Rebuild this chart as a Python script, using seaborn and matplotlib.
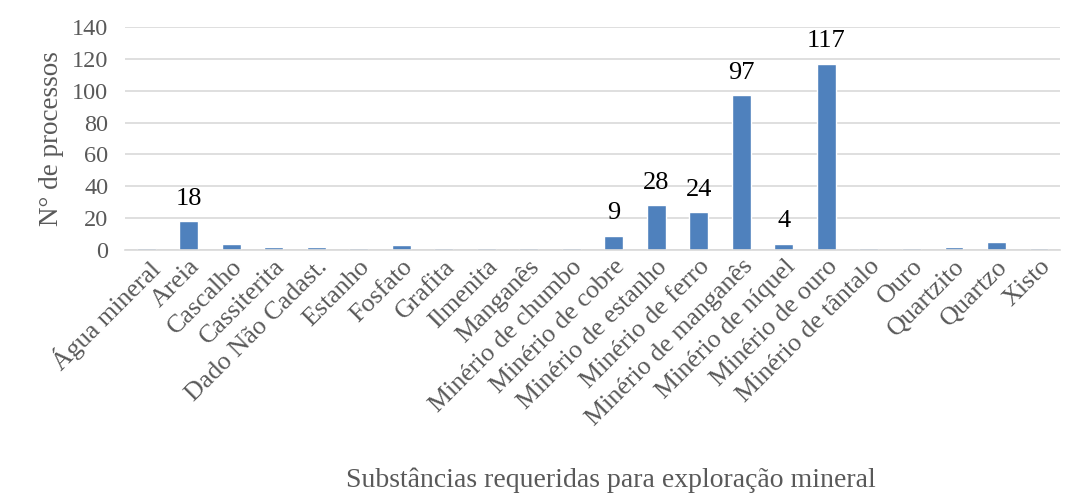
import matplotlib
matplotlib.use("Agg")
import matplotlib.pyplot as plt
import seaborn as sns
import pandas as pd

categories = ["Água mineral", "Areia", "Cascalho", "Cassiterita", "Dado Não Cadast.",
              "Estanho", "Fosfato", "Grafita", "Ilmenita", "Manganês",
              "Minério de chumbo", "Minério de cobre", "Minério de estanho",
              "Minério de ferro", "Minério de manganês", "Minério de níquel",
              "Minério de ouro", "Minério de tântalo", "Ouro", "Quartzito",
              "Quartzo", "Xisto"]
values = [1, 18, 4, 2, 2, 1, 3, 1, 1, 1, 1, 9, 28, 24, 97, 4, 117, 1, 1, 2, 5, 1]
labeled = ["Areia", "Minério de cobre", "Minério de estanho", "Minério de ferro",
           "Minério de manganês", "Minério de níquel", "Minério de ouro"]
yticks = [0, 20, 40, 60, 80, 100, 120, 140]

sns.set_theme(style="white")
plt.rcParams["font.family"] = ["Liberation Serif", "DejaVu Serif"]

df = pd.DataFrame({"cat": categories, "val": values})

fig = plt.figure(figsize=(10.73, 4.98), dpi=100)
ax = fig.add_axes([0.1165, 0.498, 0.8715, 0.448])
sns.barplot(data=df, x="cat", y="val", color="#4F81BD", width=0.44, saturation=1, ax=ax)

ax.set_ylim(0, 140)
ax.set_yticks(yticks)
ax.set_xlim(-0.5, len(categories) - 0.5)
ax.yaxis.grid(True, color="#D9D9D9", linewidth=1.2)
ax.set_axisbelow(True)
for s in ["top", "right", "left"]:
    ax.spines[s].set_visible(False)
ax.spines["bottom"].set_color("#D9D9D9")
ax.spines["bottom"].set_linewidth(1.2)
ax.tick_params(axis="both", length=0, colors="#595959")
ax.tick_params(axis="y", pad=12, labelsize=17.5)
ax.tick_params(axis="x", pad=4, labelsize=18.7)
plt.setp(ax.get_xticklabels(), rotation=45, ha="right", rotation_mode="anchor")

ax.set_ylabel("N° de processos", fontsize=19.5, color="#595959", labelpad=6)
ax.set_xlabel("Substâncias requeridas para exploração mineral", fontsize=20, color="#595959")
ax.xaxis.set_label_coords(0.52, -0.975)

for i, (c, v) in enumerate(zip(categories, values)):
    if c in labeled:
        ax.text(i, v + 7, str(v), ha="center", va="bottom", fontsize=19, color="black")

fig.savefig("out.png", dpi=100)
